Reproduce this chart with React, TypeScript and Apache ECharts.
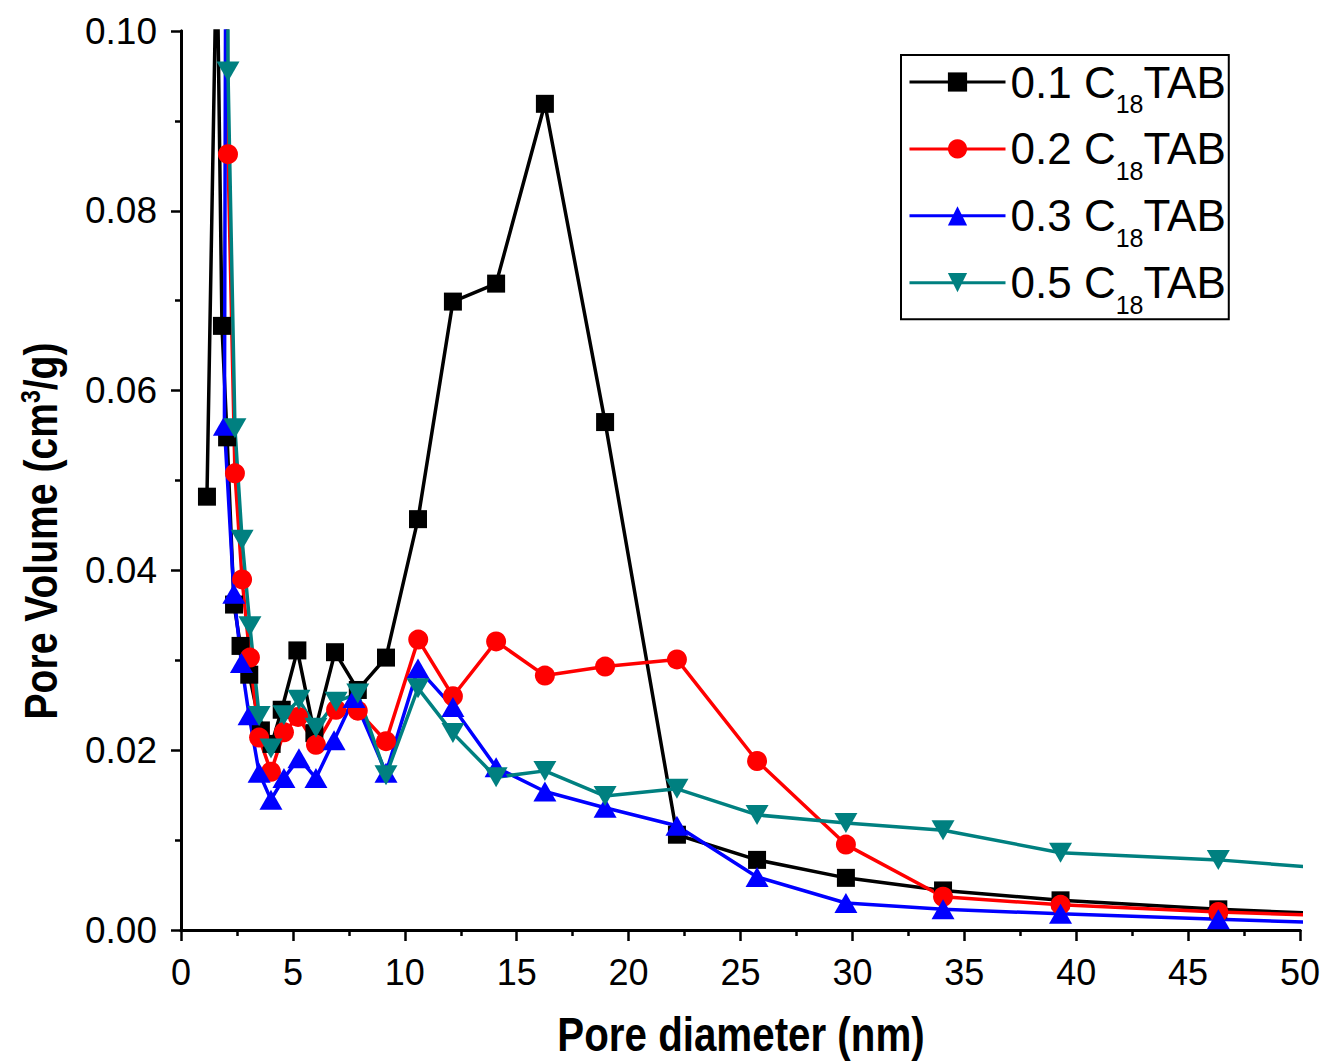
import React, { useEffect, useRef } from "react";
import * as echarts from "echarts";

const seriesNames = ["0.1 C18TAB", "0.2 C18TAB", "0.3 C18TAB", "0.5 C18TAB"];
const legendPrefixes = ["0.1", "0.2", "0.3", "0.5"];

const x01 = [1.16, 1.6, 1.83, 2.06, 2.37, 2.66, 3.05, 3.57, 4.05, 4.5, 5.2, 5.96, 6.88, 7.9, 9.16, 10.59, 12.15, 14.08, 16.26, 18.95, 22.16, 25.74, 29.71, 34.05, 39.3, 46.35, 55];
const v01 = [0.0482, 0.111, 0.0672, 0.0548, 0.0362, 0.0316, 0.0284, 0.0222, 0.0207, 0.0245, 0.0311, 0.0219, 0.0309, 0.0267, 0.0303, 0.0457, 0.0699, 0.0719, 0.0919, 0.0565, 0.0106, 0.0078, 0.0058, 0.0044, 0.0033, 0.0023, 0.0014];

const x02 = [1.98, 2.1, 2.41, 2.73, 3.08, 3.49, 4.02, 4.6, 5.23, 6.03, 6.93, 7.9, 9.16, 10.6, 12.15, 14.08, 16.26, 18.95, 22.16, 25.74, 29.71, 34.05, 39.3, 46.35, 55];
const v02 = [0.14, 0.0863, 0.0508, 0.039, 0.0303, 0.0214, 0.0176, 0.022, 0.0237, 0.0206, 0.0245, 0.0244, 0.021, 0.0323, 0.026, 0.0321, 0.0283, 0.0293, 0.0301, 0.0188, 0.0095, 0.0037, 0.0028, 0.002, 0.0013];

const x03 = [2.02, 1.94, 2.36, 2.7, 3.04, 3.49, 4.02, 4.6, 5.27, 6.03, 6.84, 7.73, 9.16, 10.59, 12.15, 14.08, 16.26, 18.95, 22.16, 25.74, 29.71, 34.05, 39.3, 46.35, 55];
const v03 = [0.13, 0.0561, 0.0374, 0.0297, 0.0239, 0.0175, 0.0145, 0.0169, 0.0191, 0.0169, 0.0211, 0.0258, 0.0175, 0.0291, 0.0248, 0.0181, 0.0154, 0.0136, 0.0116, 0.0059, 0.003, 0.0023, 0.0018, 0.0012, 0.0005];

const x05 = [2.08, 2.1, 2.41, 2.73, 3.08, 3.49, 4.02, 4.6, 5.27, 6.03, 6.93, 7.9, 9.16, 10.59, 12.15, 14.08, 16.26, 18.95, 22.16, 25.74, 29.71, 34.05, 39.3, 46.35, 55];
const v05 = [0.14, 0.0955, 0.0558, 0.0434, 0.0338, 0.0238, 0.0202, 0.0239, 0.0256, 0.0225, 0.0254, 0.0263, 0.0172, 0.0269, 0.0219, 0.017, 0.0177, 0.0149, 0.0157, 0.0128, 0.0119, 0.0111, 0.0086, 0.0078, 0.0061];

const xTicksMin = 0, xTicksMax = 50, xInterval = 5;
const yTicksMin = 0, yTicksMax = 0.1, yInterval = 0.02;
const xTitle = "Pore diameter (nm)";
const yTitle = "Pore Volume (cm{sup|3}/g)";

const colors = ["#000000", "#ff0000", "#0000ff", "#008080"];
const symbols = ["rect", "circle", "triangle", "path://M0,0 L20,0 L10,18 Z"];
const symbolSizes: any[] = [18, 20, [23, 20], [23, 20]];

const pair = (xs: number[], vs: number[]) => xs.map((x, i) => [x, vs[i]]);
const allData = [pair(x01, v01), pair(x02, v02), pair(x03, v03), pair(x05, v05)];

const SANS = "'Liberation Sans', Arial, sans-serif";

export default function App() {
  const ref = useRef<HTMLDivElement>(null);
  useEffect(() => {
    document.body.style.margin = "0";
    const chart = echarts.init(ref.current!, null, { renderer: "svg" });
    const axisLine = { show: true, lineStyle: { color: "#000", width: 3 } };
    chart.setOption({
      animation: false,
      backgroundColor: "#fff",
      grid: { left: 181, width: 1119, top: 31, height: 899, containLabel: false },
      legend: {
        orient: "vertical",
        left: 901,
        top: 55,
        itemWidth: 96,
        itemHeight: 24,
        itemGap: 10.4,
        itemTextGap: 24,
        padding: [5, 3, 2, 7],
        borderColor: "#000",
        borderWidth: 2,
        data: seriesNames,
        lineStyle: { width: 3 },
        formatter: (name: string) => {
          const i = seriesNames.indexOf(name);
          return `{a|${legendPrefixes[i]} C}{sub|18}{a|TAB}`;
        },
        textStyle: {
          color: "#000",
          fontFamily: SANS,
          fontSize: 44,
          rich: {
            a: { fontFamily: SANS, fontSize: 44, color: "#000", lineHeight: 44, verticalAlign: "middle" },
            sub: { fontFamily: SANS, fontSize: 25, color: "#000", lineHeight: 4, padding: [0, 0, -44, 0], verticalAlign: "middle" },
          },
        },
      },
      graphic: [
        {
          type: "text",
          x: 741,
          y: 1034,
          scaleX: 0.84,
          style: {
            text: xTitle,
            fontFamily: SANS,
            fontWeight: "bold",
            fontSize: 48,
            fill: "#000",
            align: "center",
            verticalAlign: "middle",
          },
        },
        {
          type: "text",
          x: 41,
          y: 531,
          rotation: Math.PI / 2,
          scaleX: 0.85,
          style: {
            text: yTitle,
            fontFamily: SANS,
            fontWeight: "bold",
            fontSize: 46,
            fill: "#000",
            align: "center",
            verticalAlign: "middle",
            rich: {
              sup: { fontFamily: SANS, fontWeight: "bold", fontSize: 27, fill: "#000", padding: [0, 0, 22, 0], verticalAlign: "middle" },
            },
          },
        },
      ],
      xAxis: [
        {
          type: "value",
          min: xTicksMin,
          max: xTicksMax,
          interval: xInterval,
          axisLine,
          axisTick: { show: true, inside: false, length: 11, lineStyle: { color: "#000", width: 2.5 } },
          minorTick: { show: true, splitNumber: 2, length: 6, lineStyle: { color: "#000", width: 2.5 } },
          axisLabel: { fontFamily: SANS, fontSize: 36, color: "#000", margin: 24 },
          splitLine: { show: false },
        },
        {
          type: "value",
          position: "top",
          min: xTicksMin,
          max: xTicksMax,
          interval: xInterval,
          axisLine,
          axisTick: { show: false },
          axisLabel: { show: false },
          splitLine: { show: false },
        },
      ],
      yAxis: [
        {
          type: "value",
          min: yTicksMin,
          max: yTicksMax,
          interval: yInterval,
          axisLine,
          axisTick: { show: true, inside: false, length: 10, lineStyle: { color: "#000", width: 2.5 } },
          minorTick: { show: true, splitNumber: 2, length: 6, lineStyle: { color: "#000", width: 2.5 } },
          axisLabel: { fontFamily: SANS, fontSize: 37, color: "#000", margin: 24, formatter: (v: number) => v.toFixed(2) },
          splitLine: { show: false },
        },
        {
          type: "value",
          position: "right",
          min: yTicksMin,
          max: yTicksMax,
          interval: yInterval,
          axisLine,
          axisTick: { show: false },
          axisLabel: { show: false },
          splitLine: { show: false },
        },
      ],
      series: allData.map((d, i) => ({
        name: seriesNames[i],
        type: "line",
        xAxisIndex: 0,
        yAxisIndex: 0,
        data: d,
        clip: true,
        symbol: symbols[i],
        symbolSize: symbolSizes[i],
        showAllSymbol: true,
        color: colors[i],
        itemStyle: { color: colors[i], borderWidth: 0 },
        lineStyle: { color: colors[i], width: 3.5 },
      })),
    });
    return () => chart.dispose();
  }, []);
  return <div ref={ref} style={{ width: 1325, height: 1062 }} />;
}
